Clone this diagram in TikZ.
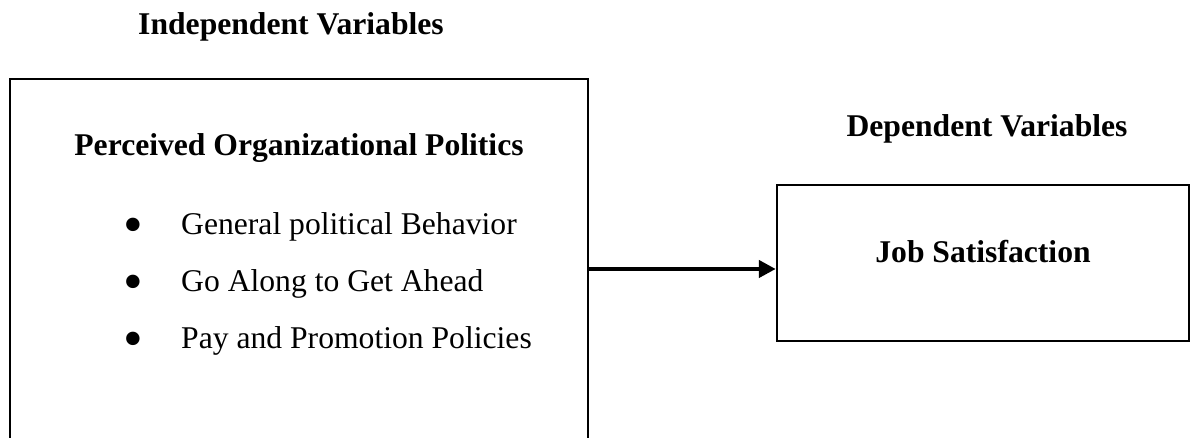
\documentclass[tikz,border=0pt]{standalone}
\usepackage{fontspec}
\setmainfont{Liberation Serif}
\usepackage{tikz}
\usetikzlibrary{arrows.meta, positioning, shapes}

\begin{document}
\begin{tikzpicture}[
    box/.style={rectangle, draw, line width=1.4pt, inner sep=0pt},
    head/.style={font=\bfseries\fontsize{18}{22}\selectfont, anchor=base},
    item/.style={font=\fontsize{18}{22}\selectfont, anchor=base west},
    dot/.style={font=\fontsize{32}{32}\selectfont, anchor=base},
    arrow/.style={-{Triangle[length=0.34cm, width=0.34cm]}, line width=2.4pt}
]
    \clip (0, 0) rectangle (23.82, 8.76);

    % Left: independent variables
    \node[head] (indep) at (5.82, 8.06) {Independent Variables};
    \node[box, minimum width=11.56cm, minimum height=7.6cm] (pop) at (5.98, 3.38) {};
    \node[head] (poptitle) at (5.98, 5.64) {Perceived Organizational Politics};
    \node[dot] (b1) at (2.66, 3.88) {•};
    \node[item] (gpb) at (3.5, 4.06) {General political Behavior};
    \node[dot] (b2) at (2.66, 2.74) {•};
    \node[item] (goalong) at (3.5, 2.92) {Go Along to Get Ahead};
    \node[dot] (b3) at (2.66, 1.60) {•};
    \node[item] (paypromo) at (3.5, 1.78) {Pay and Promotion Policies};

    % Right: dependent variables
    \node[head] (dep) at (19.74, 6.02) {Dependent Variables};
    \node[box, minimum width=8.24cm, minimum height=3.12cm] (js) at (19.66, 3.5) {};
    \node[head] (jstitle) at (js.center) {Job Satisfaction};

    % Arrow
    \draw[arrow] (pop.east) -- (pop.east -| js.west);
\end{tikzpicture}
\end{document}
